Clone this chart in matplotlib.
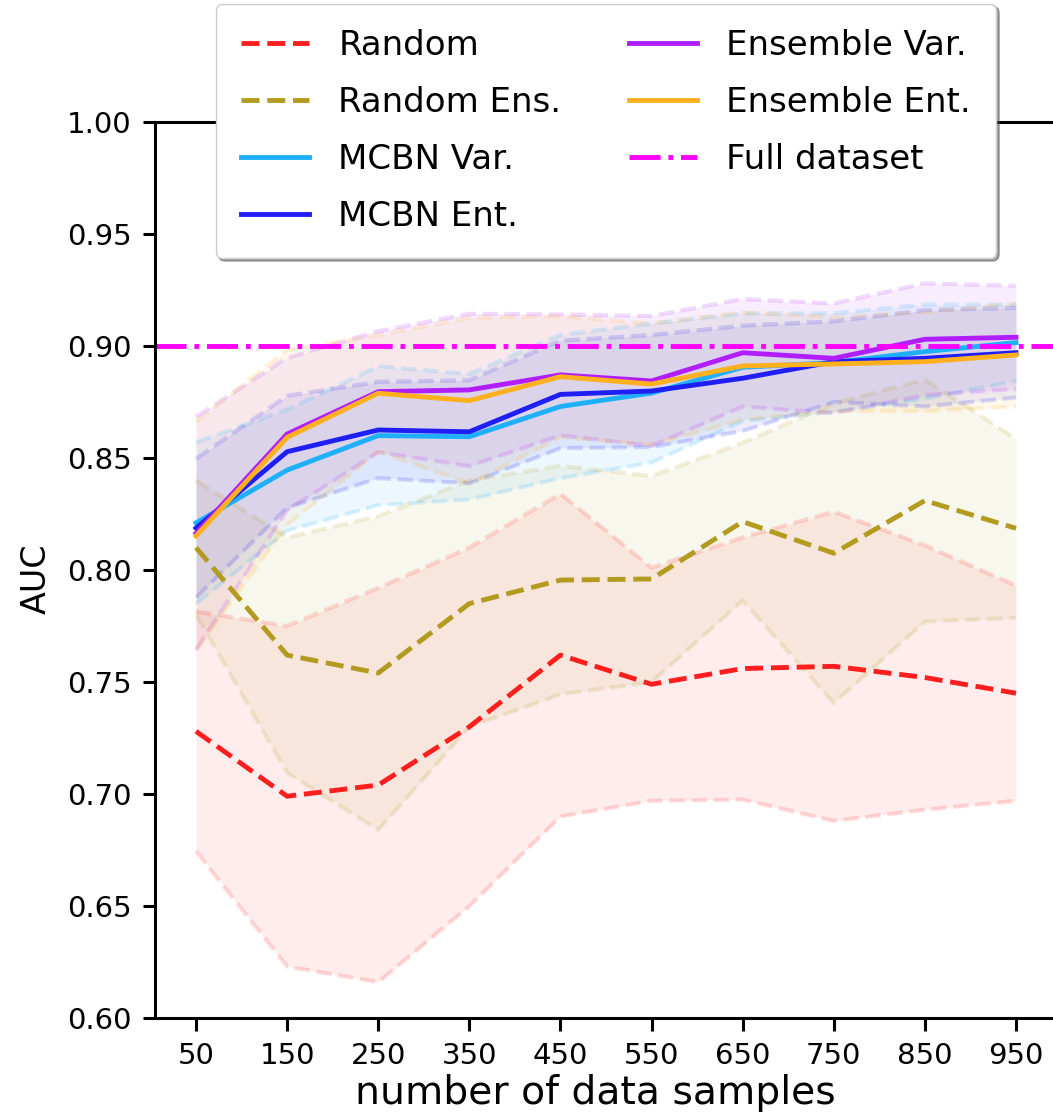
import numpy as np
import matplotlib
matplotlib.use('Agg')
import matplotlib.pyplot as plt

# number of labelled samples
n_samples = [50, 150, 250, 350, 450, 550, 650, 750, 850, 950]

# AUC mean / std for each acquisition strategy
random_mean = [0.728, 0.699, 0.704, 0.730, 0.762, 0.749, 0.756, 0.757, 0.752, 0.745]
random_std = [0.0535, 0.076, 0.088, 0.080, 0.072, 0.052, 0.0585, 0.069, 0.059, 0.048]

rand_ens_mean = [0.810, 0.762, 0.754, 0.785, 0.7955, 0.796, 0.8216, 0.8075, 0.831, 0.8186]
rand_ens_std = [0.030, 0.0525, 0.070, 0.055, 0.051, 0.046, 0.0352, 0.0669, 0.054, 0.040]

mcbn_var_mean = [0.821, 0.8446, 0.860, 0.8595, 0.873, 0.879, 0.8905, 0.8926, 0.8975, 0.9015]
mcbn_var_std = [0.036, 0.027, 0.031, 0.028, 0.032, 0.031, 0.024, 0.022, 0.021, 0.017]

mcbn_ent_mean = [0.8187, 0.8528, 0.8625, 0.8617, 0.8784, 0.8799, 0.8856, 0.8930, 0.8945, 0.897]
mcbn_ent_std = [0.031, 0.025, 0.0215, 0.023, 0.024, 0.025, 0.0235, 0.018, 0.0215, 0.020]

ens_var_mean = [0.8164, 0.8607, 0.8796, 0.8804, 0.8871, 0.8844, 0.8970, 0.8945, 0.9030, 0.9039]
ens_var_std = [0.052, 0.034, 0.027, 0.034, 0.027, 0.029, 0.024, 0.0245, 0.025, 0.023]

ens_ent_mean = [0.8152, 0.8592, 0.8789, 0.8756, 0.8863, 0.8830, 0.8911, 0.8920, 0.8930, 0.8960]
ens_ent_std = [0.051, 0.039, 0.026, 0.037, 0.027, 0.027, 0.024, 0.021, 0.022, 0.023]

full_dataset_auc = 0.90

series = [
    ('Random', random_mean, random_std, '#ff1e1e', '--'),
    ('Random Ens.', rand_ens_mean, rand_ens_std, '#b29b1e', '--'),
    ('MCBN Var.', mcbn_var_mean, mcbn_var_std, '#1eb0fa', '-'),
    ('MCBN Ent.', mcbn_ent_mean, mcbn_ent_std, '#1e1ef5', '-'),
    ('Ensemble Var.', ens_var_mean, ens_var_std, '#b01efa', '-'),
    ('Ensemble Ent.', ens_ent_mean, ens_ent_std, '#ffb01e', '-'),
]

fig = plt.figure(figsize=(10.53, 11.17), dpi=100)
ax = fig.add_axes([155 / 1053, 99 / 1117, 902 / 1053, 896 / 1117])

x = np.array(n_samples)

# shaded bands first so the mean lines sit on top
for name, m, s, c, ls in series:
    m = np.array(m)
    s = np.array(s)
    ax.fill_between(x, m - s, m + s, color=c, alpha=0.08, linewidth=0)
    ax.plot(x, m + s, '--', color=c, alpha=0.16, lw=3)
    ax.plot(x, m - s, '--', color=c, alpha=0.16, lw=3)

for name, m, s, c, ls in series:
    ax.plot(x, m, ls, color=c, lw=3.5, label=name)

ax.axhline(full_dataset_auc, color='#ff00ff', ls='-.', lw=3.5, label='Full dataset')

ax.set_xlim(5, 995)
ax.set_ylim(0.60, 1.00)
ax.set_xticks(n_samples)
ax.set_yticks([0.60, 0.65, 0.70, 0.75, 0.80, 0.85, 0.90, 0.95, 1.00])
ax.set_yticklabels(['%.2f' % v for v in ax.get_yticks()])

for sp in ax.spines.values():
    sp.set_linewidth(2.2)
ax.tick_params(labelsize=21, width=2.2, length=9, pad=8)

ax.set_xlabel('number of data samples', fontsize=28.3)
ax.xaxis.set_label_coords(0.488, -0.062)
ax.set_ylabel('AUC', fontsize=24)
ax.yaxis.set_label_coords(-0.113, 0.49)

leg = ax.legend(ncol=2, loc='upper center', bbox_to_anchor=(0.5, 1.132),
                fontsize=24.5, shadow=True, framealpha=1, borderaxespad=0,
                labelspacing=0.7, borderpad=0.75, handletextpad=0.85)

plt.savefig('out.png', dpi=100)
